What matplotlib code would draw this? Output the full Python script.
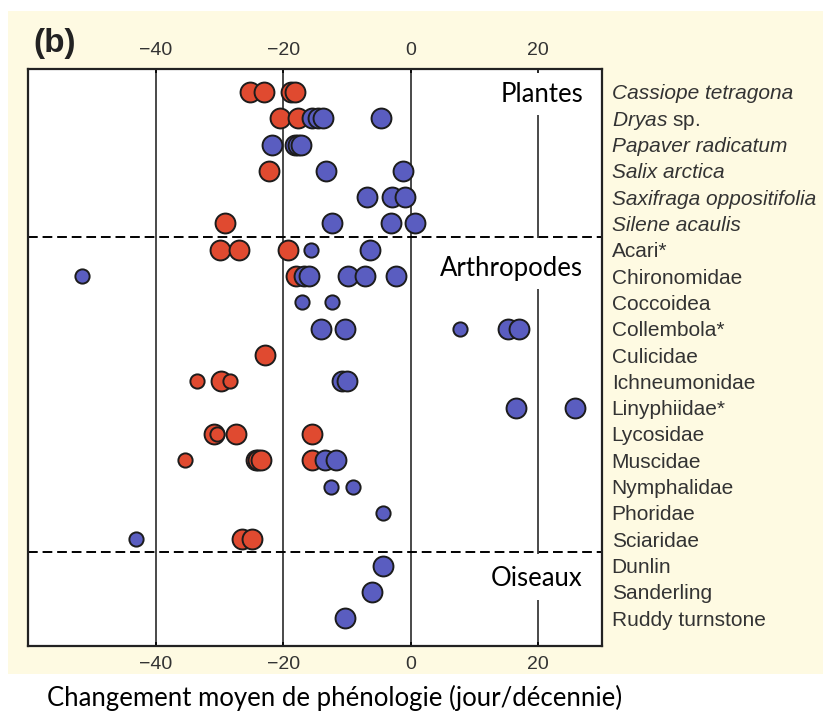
import matplotlib
matplotlib.use("Agg")
import matplotlib.pyplot as plt
from matplotlib.patches import Rectangle

plt.rcParams["mathtext.fontset"] = "custom"
plt.rcParams["mathtext.it"] = "Liberation Sans:italic"
plt.rcParams["mathtext.rm"] = "Liberation Sans"

# --- data (mean change in phenology, days/decade) ---
species = [
    "Cassiope tetragona", r"$\mathit{Dryas}$ sp.", "Papaver radicatum",
    "Salix arctica", "Saxifraga oppositifolia", "Silene acaulis",
    "Acari*", "Chironomidae", "Coccoidea", "Collembola*", "Culicidae",
    "Ichneumonidae", "Linyphiidae*", "Lycosidae", "Muscidae",
    "Nymphalidae", "Phoridae", "Sciaridae",
    "Dunlin", "Sanderling", "Ruddy turnstone",
]
italic = [True, False, True, True, True, True] + [False] * 15
groups = ["Plantes", "Arthropodes", "Oiseaux"]
group_sizes = [6, 12, 3]

# red = significant advance, blue = not significant (large / small markers)
red_big = [
    [-25.2, -23.0, -18.8, -18.2], [-20.5, -17.7], [], [-22.2], [], [-29.1],
    [-29.9, -26.9, -19.3], [-18.0], [], [], [-22.8], [-29.7], [],
    [-30.9, -27.4, -15.4], [-24.3, -23.9, -23.5, -15.5], [], [], [-26.5, -24.8],
    [], [], [],
]
red_small = [
    [], [], [], [], [], [],
    [], [], [], [], [], [-33.5, -28.3], [], [-30.4], [-35.4], [], [], [],
    [], [], [],
]
blue_big = [
    [], [-15.4, -14.6, -13.7, -4.7], [-21.7, -18.2, -17.7, -17.2],
    [-13.2, -1.2], [-6.8, -2.9, -0.9], [-12.4, -3.1, 0.7],
    [-6.4], [-16.7, -16.0, -9.8, -7.1, -2.3], [], [-14.0, -10.3, 15.2, 17.0],
    [], [-10.7, -10.0], [16.5, 25.7], [], [-13.4, -11.7], [], [], [],
    [-4.3], [-6.1], [-10.3],
]
blue_small = [
    [], [], [], [], [], [],
    [-15.7], [-51.6], [-17.1, -12.4], [7.8], [], [], [], [], [],
    [-12.5, -9.0], [-4.4], [-43.1],
    [], [], [],
]
xticks = [-40, -20, 0, 20]

RED = "#e04a30"
BLUE = "#5a5dc0"
EDGE = "#1c1c1c"
CREAM = "#fefae2"
TXT = "#333333"

fig = plt.figure(figsize=(8.23, 7.11), dpi=100)
fig.patches.append(Rectangle((0.0097, 0.052), 0.9903, 0.9325,
                             transform=fig.transFigure, facecolor=CREAM,
                             edgecolor="none", zorder=-10))
ax = fig.add_axes([0.034, 0.0914, 0.6975, 0.8115])
ax.set_facecolor("white")

n = len(species)
ax.set_xlim(-60, 30)
ax.set_ylim(n + 0.06, -0.87)

# grid lines at -40, -20, 0 (full height)
for x in xticks[:-1]:
    ax.axvline(x, color="#2a2a2a", lw=1.2, zorder=1)

# group separators
bounds = []
start = 0
for sz in group_sizes:
    start += sz
    bounds.append(start - 0.5)
for b in bounds[:-1]:
    ax.axhline(b, color="black", lw=1.4, ls=(0, (5, 2.5)), zorder=1)

# group labels, with the +20 line broken under each label
label_rows = [0.08, 6.7, 18.5]
seg_start = [0.87, 7.5, 19.3]
seg_end = [5.55, 17.55, n + 0.06]
for g, yr, s0, s1 in zip(groups, label_rows, seg_start, seg_end):
    ax.text(27, yr, g, ha="right", va="center", fontsize=18.5,
            family="Lato", color="black")
    ax.vlines(20, s0, s1, color="#2a2a2a", lw=1.2, zorder=1)

big = 205
small = 105
for i in range(n):
    for vals, col, s in ((red_big[i], RED, big), (red_small[i], RED, small)):
        if vals:
            ax.scatter(vals, [i] * len(vals), s=s, color=col, edgecolor=EDGE,
                       lw=1.4, zorder=3)
for i in range(n):
    for vals, col, s in ((blue_big[i], BLUE, big), (blue_small[i], BLUE, small)):
        if vals:
            ax.scatter(vals, [i] * len(vals), s=s, color=col, edgecolor=EDGE,
                       lw=1.4, zorder=4)

# axes styling
for sp in ax.spines.values():
    sp.set_linewidth(1.6)
    sp.set_color("#222222")
ax.set_xticks(xticks)
ax.set_xticklabels([f"{t}".replace("-", "\u2212") for t in xticks])
ax.tick_params(axis="x", top=True, labeltop=True, bottom=True, labelbottom=True,
               direction="in", length=3, width=1.2, pad=7, labelsize=14,
               labelcolor=TXT)
for lab in ax.get_xticklabels():
    lab.set_family("Liberation Sans")

ax.yaxis.tick_right()
ax.set_yticks(range(n))
ax.set_yticklabels(species)
ax.tick_params(axis="y", length=0, pad=7, labelsize=15, labelcolor=TXT)
for lab, it in zip(ax.get_yticklabels(), italic):
    lab.set_family("Liberation Sans")
    lab.set_style("italic" if it else "normal")

fig.text(0.040, 0.939, "(b)", fontsize=24, weight="bold", family="Liberation Sans",
         va="center", ha="left", color="#222222")
fig.text(0.057, 0.019, "Changement moyen de phénologie (jour/décennie)",
         fontsize=18.5, family="Lato", ha="left", va="center", color="black")

fig.savefig("out.png", dpi=100)
